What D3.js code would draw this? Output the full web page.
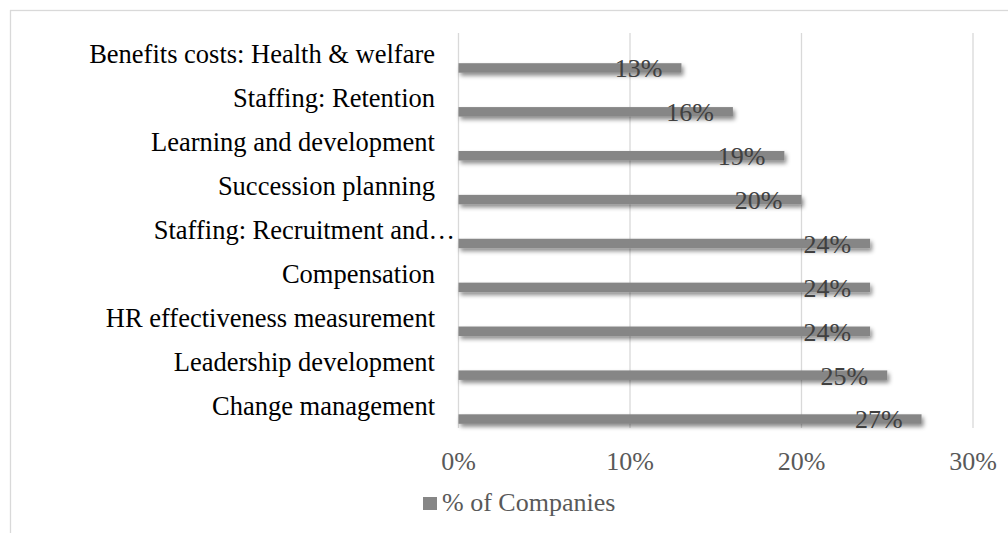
<!DOCTYPE html>
<html>
<head>
<meta charset="utf-8">
<style>
body { margin: 0; background: #fff; }
svg { display: block; font-family: "Liberation Serif", "Times New Roman", serif; }
.grid line { stroke: #d9d9d9; stroke-width: 1.3; }
.cat { fill: #000; font-size: 26.5px; }
.tick-label { fill: #595959; font-size: 26px; }
.value { fill: #404040; font-size: 26px; }
.legend { fill: #595959; font-size: 26px; }
</style>
</head>
<body>
<svg width="1008" height="533"></svg>
<script src="https://d3js.org/d3.v7.min.js"></script>
<script>
// categories from top to bottom, as in the chart
var categories = [
  "Benefits costs: Health & welfare",
  "Staffing: Retention",
  "Learning and development",
  "Succession planning",
  "Staffing: Recruitment and\u2026",
  "Compensation",
  "HR effectiveness measurement",
  "Leadership development",
  "Change management"
];
var values = [0.13, 0.16, 0.19, 0.20, 0.24, 0.24, 0.24, 0.25, 0.27];
var ticks = [0, 0.10, 0.20, 0.30];
var seriesName = "% of Companies";

var data = categories.map(function(c, i) { return { cat: c, value: values[i] }; });

var svg = d3.select("svg");

// drop shadow for bars
var defs = svg.append("defs");
var f = defs.append("filter").attr("id", "shadow")
  .attr("x", "-10%").attr("y", "-100%").attr("width", "120%").attr("height", "300%");
f.append("feDropShadow")
  .attr("dx", 2).attr("dy", 3).attr("stdDeviation", 2)
  .attr("flood-color", "#000").attr("flood-opacity", 0.45);

// chart area border
svg.append("rect")
  .attr("x", 10.5).attr("y", 10.5)
  .attr("width", 1010).attr("height", 540)
  .attr("fill", "none").attr("stroke", "#d9d9d9").attr("stroke-width", 1.3);

var x = d3.scaleLinear().domain([0, 0.30]).range([458.5, 973]);
var y = d3.scaleBand().domain(categories).range([33, 428]).padding(0);

var fmt = d3.format(".0%");

// gridlines
svg.append("g").attr("class", "grid")
  .selectAll("line")
  .data(ticks)
  .enter().append("line")
    .attr("x1", function(d) { return x(d); })
    .attr("x2", function(d) { return x(d); })
    .attr("y1", 33).attr("y2", 428);

// tick labels
svg.append("g")
  .selectAll("text")
  .data(ticks)
  .enter().append("text")
    .attr("class", "tick-label")
    .attr("x", function(d) { return x(d); })
    .attr("y", 470)
    .attr("text-anchor", "middle")
    .text(fmt);

// category labels
svg.append("g")
  .selectAll("text")
  .data(data)
  .enter().append("text")
    .attr("class", "cat")
    .attr("x", function(d) { return /\u2026$/.test(d.cat) ? 455 : 435; })
    .attr("y", function(d) { return y(d.cat) + y.bandwidth() / 2; })
    .attr("dy", "0.32em")
    .attr("text-anchor", "end")
    .text(function(d) { return d.cat; });

// bars (sit a little below the band centre, as in the original)
var barH = 9.5;
svg.append("g")
  .selectAll("rect")
  .data(data)
  .enter().append("rect")
    .attr("x", x(0))
    .attr("y", function(d) { return y(d.cat) + y.bandwidth() / 2 + 13 - barH / 2; })
    .attr("width", function(d) { return x(d.value) - x(0); })
    .attr("height", barH)
    .attr("fill", "#868686")
    .attr("filter", "url(#shadow)");

// value labels, inside end
svg.append("g")
  .selectAll("text")
  .data(data)
  .enter().append("text")
    .attr("class", "value")
    .attr("x", function(d) { return x(d.value) - 19; })
    .attr("y", function(d) { return y(d.cat) + y.bandwidth() / 2 + 13; })
    .attr("dy", "0.36em")
    .attr("text-anchor", "end")
    .text(function(d) { return fmt(d.value); });

// legend
var lg = svg.append("g");
lg.append("rect")
  .attr("x", 423).attr("y", 497).attr("width", 14).attr("height", 13)
  .attr("fill", "#868686");
lg.append("text")
  .attr("class", "legend")
  .attr("x", 442).attr("y", 511)
  .text(seriesName);
</script>
</body>
</html>
